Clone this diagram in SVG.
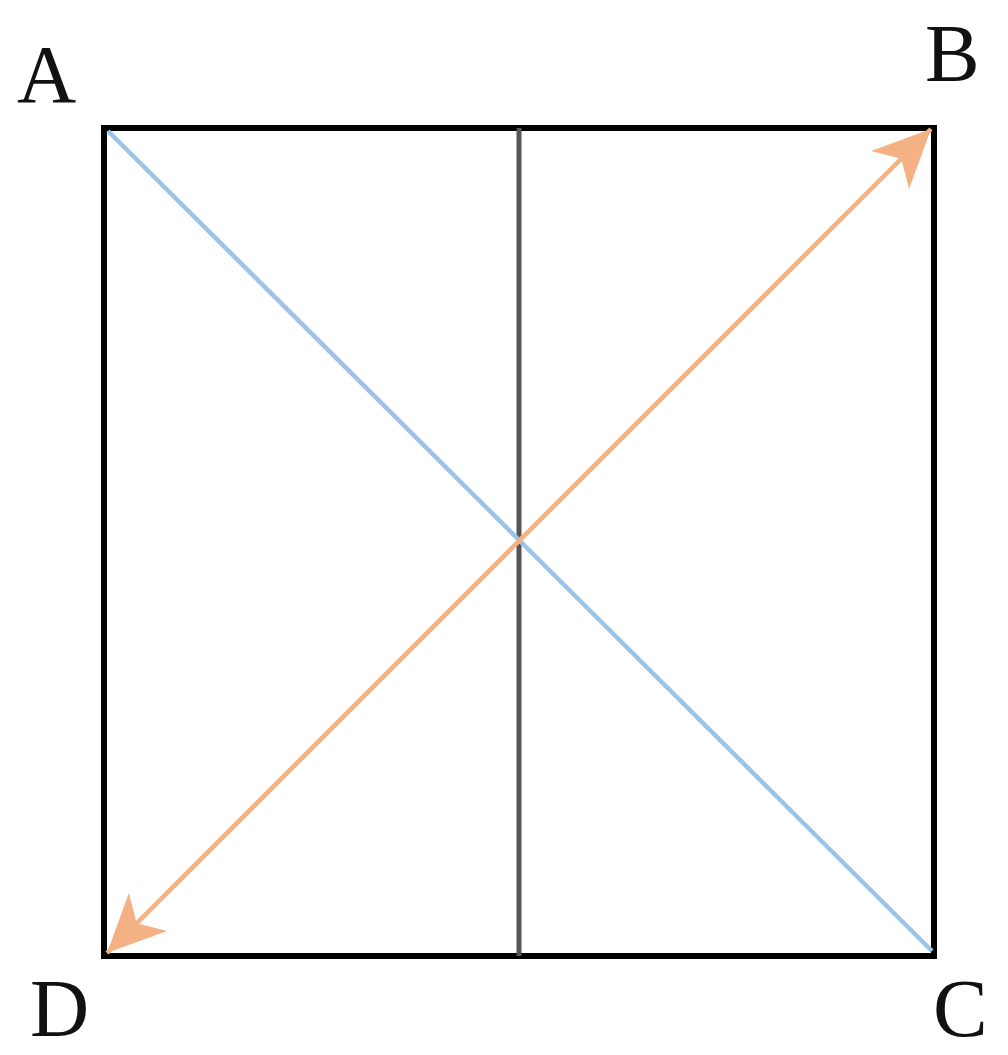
<svg xmlns="http://www.w3.org/2000/svg" width="1008" height="1055" viewBox="0 0 1008 1055">
<style>
.lbl{font-family:"Liberation Serif","Times New Roman",serif;font-size:82px;fill:#111}
</style>
<defs>
<marker id="arr" viewBox="0 0 60 54" refX="58" refY="27" markerWidth="60" markerHeight="54" markerUnits="userSpaceOnUse" orient="auto-start-reverse">
<path d="M0,0 L58,27 L0,54 L16,27 Z" fill="#f4b183"/>
</marker>
</defs>
<rect width="1008" height="1055" fill="#fff"/>
<g id="square">
<rect x="104" y="128" width="830" height="828" fill="none" stroke="#000" stroke-width="6"/>
</g>
<g id="connectors">
<line id="mid" x1="519" y1="128" x2="519" y2="956" stroke="#555" stroke-width="5"/>
<line id="ac" x1="108" y1="131" x2="932" y2="951" stroke="#9dc3e6" stroke-width="4.5"/>
<line id="db" x1="107" y1="953" x2="931" y2="129" stroke="#f4b183" stroke-width="4.5" marker-start="url(#arr)" marker-end="url(#arr)"/>
</g>
<g id="labels">
<text class="lbl" x="17" y="102">A</text>
<text class="lbl" x="925" y="81">B</text>
<text class="lbl" x="933" y="1036">C</text>
<text class="lbl" x="30" y="1036">D</text>
</g>
</svg>
